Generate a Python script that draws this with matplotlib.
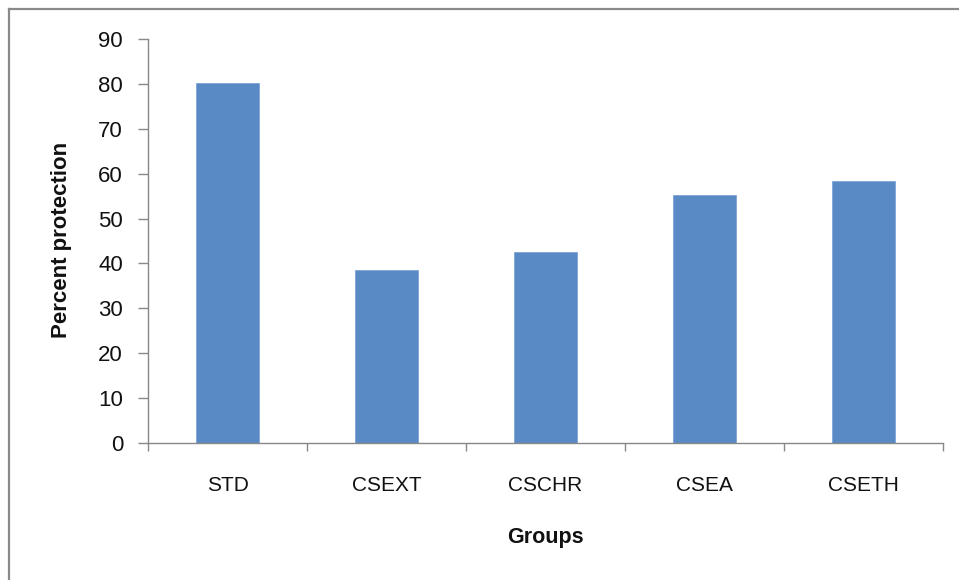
import matplotlib
matplotlib.use("Agg")
import matplotlib.pyplot as plt
from matplotlib.lines import Line2D
import numpy as np

groups = ["STD", "CSEXT", "CSCHR", "CSEA", "CSETH"]
protection = [80.1, 38.5, 42.5, 55.3, 58.4]
yticks = [0, 10, 20, 30, 40, 50, 60, 70, 80, 90]

plt.rcParams['font.family'] = ['Liberation Sans', 'DejaVu Sans']

W, H = 959, 580
fig = plt.figure(figsize=(W / 100, H / 100), dpi=100)
ax = fig.add_axes([148 / W, 1 - 443 / H, (943 - 148) / W, (443 - 39) / H])

x = np.arange(len(groups))
ax.bar(x, protection, width=0.4, color="#5A8AC5", edgecolor="#7FA6D6", linewidth=0.6)

ax.set_xlim(-0.5, len(groups) - 0.5)
ax.set_ylim(0, 90)
ax.set_yticks(yticks)

axis_gray = "#888888"
for s in ["top", "right"]:
    ax.spines[s].set_visible(False)
for s in ["left", "bottom"]:
    ax.spines[s].set_color(axis_gray)
    ax.spines[s].set_linewidth(1.0)

# labels at centers, tick marks on category boundaries
ax.set_xticks(x)
ax.set_xticklabels(groups)
ax.tick_params(axis="x", which="major", length=0, pad=24, labelsize=15, labelcolor="#111111")
ax.set_xticks(np.arange(-0.5, len(groups)), minor=True)
ax.tick_params(axis="x", which="minor", length=6, width=1, color=axis_gray, direction="out")
ax.tick_params(axis="y", length=7, width=1, color=axis_gray, pad=11, labelsize=16, labelcolor="#111111")

fig.text(62 / W, 1 - 240 / H, "Percent protection", rotation=90, ha="center", va="center",
         fontsize=16, fontweight="bold", color="#111111")
fig.text(545 / W, 1 - 538 / H, "Groups", ha="center", va="center",
         fontsize=15.5, fontweight="bold", color="#111111")

# chart-area border (top and left only visible)
fig.add_artist(Line2D([9 / W, 9 / W], [0, 1 - 9 / H], transform=fig.transFigure, color="#8a8a8a", lw=1.6))
fig.add_artist(Line2D([9 / W, 1], [1 - 9 / H, 1 - 9 / H], transform=fig.transFigure, color="#8a8a8a", lw=1.6))

fig.savefig("out.png", dpi=100)
